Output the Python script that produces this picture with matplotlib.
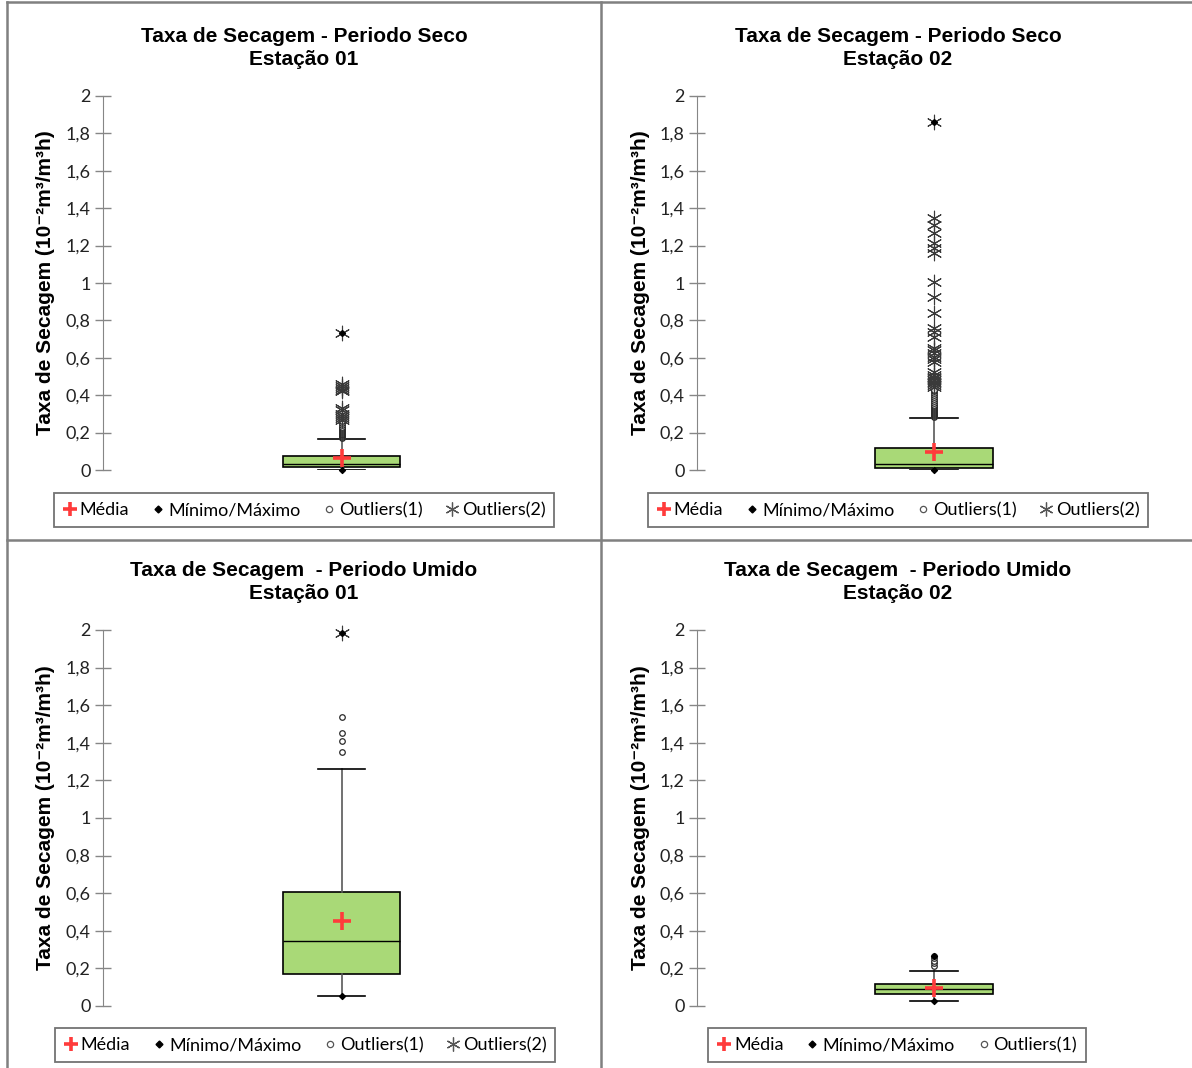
import numpy as np
import matplotlib.pyplot as plt
from matplotlib.lines import Line2D
from matplotlib.ticker import FuncFormatter

# drying rate box plots, dry / wet period, two stations
titles = [
    "Taxa de Secagem - Periodo Seco\nEstação 01",
    "Taxa de Secagem - Periodo Seco\nEstação 02",
    "Taxa de Secagem  - Periodo Umido\nEstação 01",
    "Taxa de Secagem  - Periodo Umido\nEstação 02",
]
ylabel = "Taxa de Secagem (10\u207b\u00b2m\u00b3/m\u00b3h)"

q1 = [0.014, 0.009, 0.170, 0.062]
median = [0.032, 0.030, 0.347, 0.089]
q3 = [0.076, 0.116, 0.605, 0.117]
mean = [0.063, 0.098, 0.452, 0.094]
whisker_hi = [0.164, 0.276, 1.259, 0.185]
minimum = [0.000, 0.000, 0.053, 0.027]
maximum = [0.734, 1.862, 1.986, 0.266]

outliers1 = [
    [0.170, 0.175, 0.180, 0.185, 0.190, 0.195, 0.200, 0.205, 0.210, 0.215,
     0.220, 0.225, 0.230, 0.240, 0.250, 0.260],
    [0.285, 0.290, 0.295, 0.300, 0.305, 0.310, 0.315, 0.320, 0.325, 0.330,
     0.335, 0.340, 0.350, 0.360, 0.370, 0.380, 0.390, 0.400, 0.410, 0.420,
     0.430],
    [1.353, 1.411, 1.450, 1.536],
    [0.215, 0.228, 0.242, 0.255, 0.266],
]
outliers2 = [
    [0.270, 0.280, 0.290, 0.300, 0.320, 0.330, 0.420, 0.430, 0.440, 0.450,
     0.460, 0.734],
    [0.445, 0.455, 0.465, 0.472, 0.480, 0.490, 0.499, 0.510, 0.526, 0.579,
     0.595, 0.606, 0.624, 0.640, 0.651, 0.713, 0.740, 0.758, 0.838, 0.927,
     1.007, 1.160, 1.186, 1.212, 1.266, 1.310, 1.346, 1.862],
    [1.986],
    [],
]
yticks = np.arange(0, 2.01, 0.2)

W, H = 1192, 1068
fig = plt.figure(figsize=(W / 100, H / 100), dpi=100)

title_font = ['Liberation Sans', 'DejaVu Sans']
body_font = ['Lato', 'DejaVu Sans']
box_green = '#a9d977'
axis_grey = '#868686'
red = '#ff3b3b'

# axes boxes in pixels: left, right, y of 0, y of 2
frames = [(103, 580, 470, 96), (697, 1171, 470, 96),
          (103, 580, 1006, 630), (697, 1171, 1006, 630)]
cell_cx = [304, 898, 304, 898]
title_y = [48, 48, 582, 582]
legend_pos = [(304, 510), (898, 510), (305, 1045), (897, 1045)]

for i in range(4):
    x0, x1, y0, y2 = frames[i]
    ax = fig.add_axes([x0 / W, 1 - y0 / H, (x1 - x0) / W, (y0 - y2) / H])
    stats = [dict(med=median[i], q1=q1[i], q3=q3[i], whislo=minimum[i],
                  whishi=whisker_hi[i], mean=mean[i], fliers=[])]
    ax.bxp(stats, positions=[0.5], widths=0.247, capwidths=0.1,
           patch_artist=True, showfliers=False, showmeans=True,
           boxprops=dict(facecolor=box_green, edgecolor='black', linewidth=1.2),
           medianprops=dict(color='black', linewidth=1.0),
           whiskerprops=dict(color='#595959', linewidth=1.2),
           capprops=dict(color='black', linewidth=1.2),
           meanprops=dict(marker='+', markeredgecolor=red, markersize=13,
                          markeredgewidth=2.6, zorder=6))
    # mild outliers as open circles, extreme ones as asterisks
    o1 = outliers1[i]
    ax.scatter([0.5] * len(o1), o1, s=16, marker='o', facecolors='white',
               edgecolors='#2a2a2a', linewidths=0.9, zorder=4, clip_on=False)
    o2 = outliers2[i]
    ax.scatter([0.5] * len(o2), o2, s=110, marker=(6, 2, 0), color='#3a3a3a',
               linewidths=0.8, zorder=4, clip_on=False)
    ax.scatter([0.5, 0.5], [minimum[i], maximum[i]], s=9, marker='D',
               color='black', zorder=5, clip_on=False)

    ax.set_xlim(0, 1)
    ax.set_ylim(0, 2)
    ax.set_yticks(yticks)
    ax.yaxis.set_major_formatter(FuncFormatter(
        lambda v, p: ('%g' % round(v, 1)).replace('.', ',')))
    ax.set_xticks([])
    for s in ['top', 'right', 'bottom']:
        ax.spines[s].set_visible(False)
    ax.spines['left'].set_color(axis_grey)
    ax.tick_params(axis='y', direction='inout', length=12, width=1,
                   color=axis_grey, labelsize=13, pad=3, labelcolor='#222222')
    for lab in ax.get_yticklabels():
        lab.set_family(body_font)
    ax.patch.set_alpha(0)

    fig.text(cell_cx[i] / W, 1 - title_y[i] / H, titles[i], ha='center',
             va='center', fontsize=15, fontweight='bold', family=title_font,
             linespacing=1.3)
    fig.text((x0 - 57) / W, 1 - (y0 + y2) / 2 / H, ylabel, rotation=90,
             ha='center', va='center', fontsize=15, fontweight='bold',
             family=title_font)

    handles = [
        Line2D([], [], ls='none', marker='+', markersize=10, mew=2.6,
               color=red, label='Média'),
        Line2D([], [], ls='none', marker='D', markersize=3.5, color='black',
               label='Mínimo/Máximo'),
        Line2D([], [], ls='none', marker='o', markersize=4.5, mfc='white',
               mec='#555555', mew=0.9, label='Outliers(1)'),
    ]
    if o2:
        handles.append(Line2D([], [], ls='none', marker=(6, 2, 0),
                              markersize=10, color='#555555', mew=0.9,
                              label='Outliers(2)'))
    lx, ly = legend_pos[i]
    leg = fig.legend(handles=handles, loc='center',
                     bbox_to_anchor=(lx / W, 1 - ly / H), ncol=len(handles),
                     frameon=True, fancybox=False, handlelength=0.8,
                     handletextpad=0.15, columnspacing=1.2, borderpad=0.5,
                     prop=dict(family=body_font, size=13))
    leg.get_frame().set_edgecolor('#505050')
    leg.get_frame().set_linewidth(1.3)

# panel dividers
line_kw = dict(color='#808080', linewidth=1.8, transform=fig.transFigure)
fig.add_artist(Line2D([601 / W, 601 / W], [0, 1 - 2 / H], **line_kw))
fig.add_artist(Line2D([7 / W, 1], [1 - 540 / H, 1 - 540 / H], **line_kw))
fig.add_artist(Line2D([7 / W, 1], [1 - 2 / H, 1 - 2 / H], **line_kw))
fig.add_artist(Line2D([7 / W, 7 / W], [0, 1 - 2 / H], **line_kw))

fig.savefig('out.png', dpi=100)
